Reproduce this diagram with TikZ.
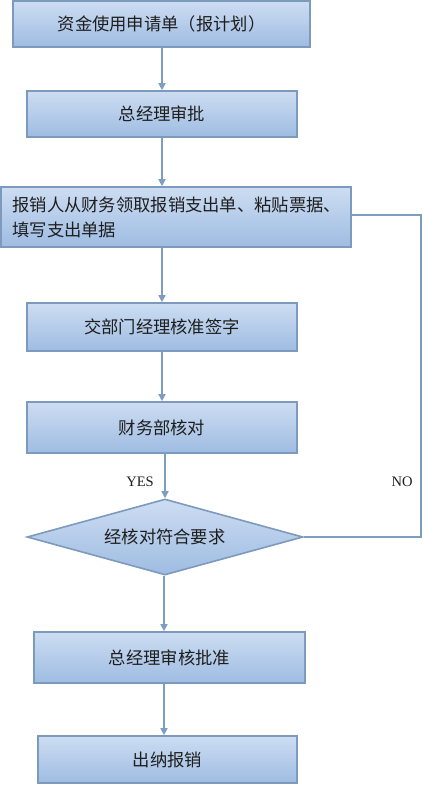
\documentclass[tikz,border=0pt]{standalone}
\usepackage{fontspec}
\newfontfamily\cjk{Noto Sans CJK SC}
\newfontfamily\lat{Liberation Serif}
\usetikzlibrary{arrows.meta,shapes.geometric}
\definecolor{edgeblue}{RGB}{125,154,188}
\definecolor{linecol}{RGB}{127,157,190}
\definecolor{toplight}{RGB}{205,221,242}
\definecolor{botdark}{RGB}{158,188,226}
\definecolor{txt}{RGB}{30,30,30}
\tikzset{
  stepbox/.style={draw=edgeblue, line width=1.6pt, top color=toplight, bottom color=botdark,
    minimum width=#1, inner sep=0pt, font=\cjk\fontsize{17.3}{25}\selectfont, text=txt},
  decide/.style={diamond, draw=edgeblue, line width=1.6pt, top color=toplight, bottom color=botdark,
    inner sep=0pt, aspect=3.6, font=\cjk\fontsize{17.3}{25}\selectfont, text=txt},
  arr/.style={draw=linecol, line width=1.6pt, -{Triangle[length=7pt,width=7pt]}},
  conn/.style={draw=linecol, line width=1.6pt},
  lbl/.style={font=\lat\fontsize{14.5}{16}\selectfont, text=txt},
  cjktext/.style={font=\cjk\fontsize{17.3}{25}\selectfont, text=txt, inner sep=0pt}
}
\begin{document}
\begin{tikzpicture}[x=1pt,y=-1pt]
\useasboundingbox (0,0) rectangle (423,785);
\node[stepbox=297pt, minimum height=46pt] (b1) at (161.5,24) {资金使用申请单（报计划）};
\node[stepbox=270pt, minimum height=46pt] (b2) at (162,114) {总经理审批};
\node[stepbox=350pt, minimum height=60pt] (b3) at (176,217) {};
\node[cjktext, anchor=west, align=left] (b3t) at ([xshift=12pt]b3.west)
  {报销人从财务领取报销支出单、粘贴票据、\\填写支出单据};
\node[stepbox=270pt, minimum height=48pt] (b4) at (162,327) {交部门经理核准签字};
\node[stepbox=270pt, minimum height=51pt] (b5) at (162,427.5) {财务部核对};
\node[decide, minimum width=276pt, minimum height=76pt] (d) at (165,537) {经核对符合要求};
\node[stepbox=271pt, minimum height=51pt] (b6) at (169.5,657.5) {总经理审核批准};
\node[stepbox=259pt, minimum height=47pt] (b7) at (167.5,759.5) {出纳报销};
\coordinate (n1) at (162,0);
\coordinate (n2) at (164,0);
\draw[arr] (b1.south -| n1) -- (b2.north -| n1);
\draw[arr] (b2.south -| n1) -- (b3.north -| n1);
\draw[arr] (b3.south -| n1) -- (b4.north -| n1);
\draw[arr] (b4.south) -- (b5.north);
\draw[arr] (b5.south -| d.north) -- (d.north);
\draw[arr] (d.south -| n2) -- (b6.north -| n2);
\draw[arr] (b6.south -| n2) -- (b7.north -| n2);
\coordinate (nc) at (421,215);
\draw[conn] (d.east) -| (nc) -- (nc -| b3.east);
\node[lbl] (yes) at (140,482) {YES};
\node[lbl] (no) at (402,482) {NO};
\end{tikzpicture}
\end{document}
